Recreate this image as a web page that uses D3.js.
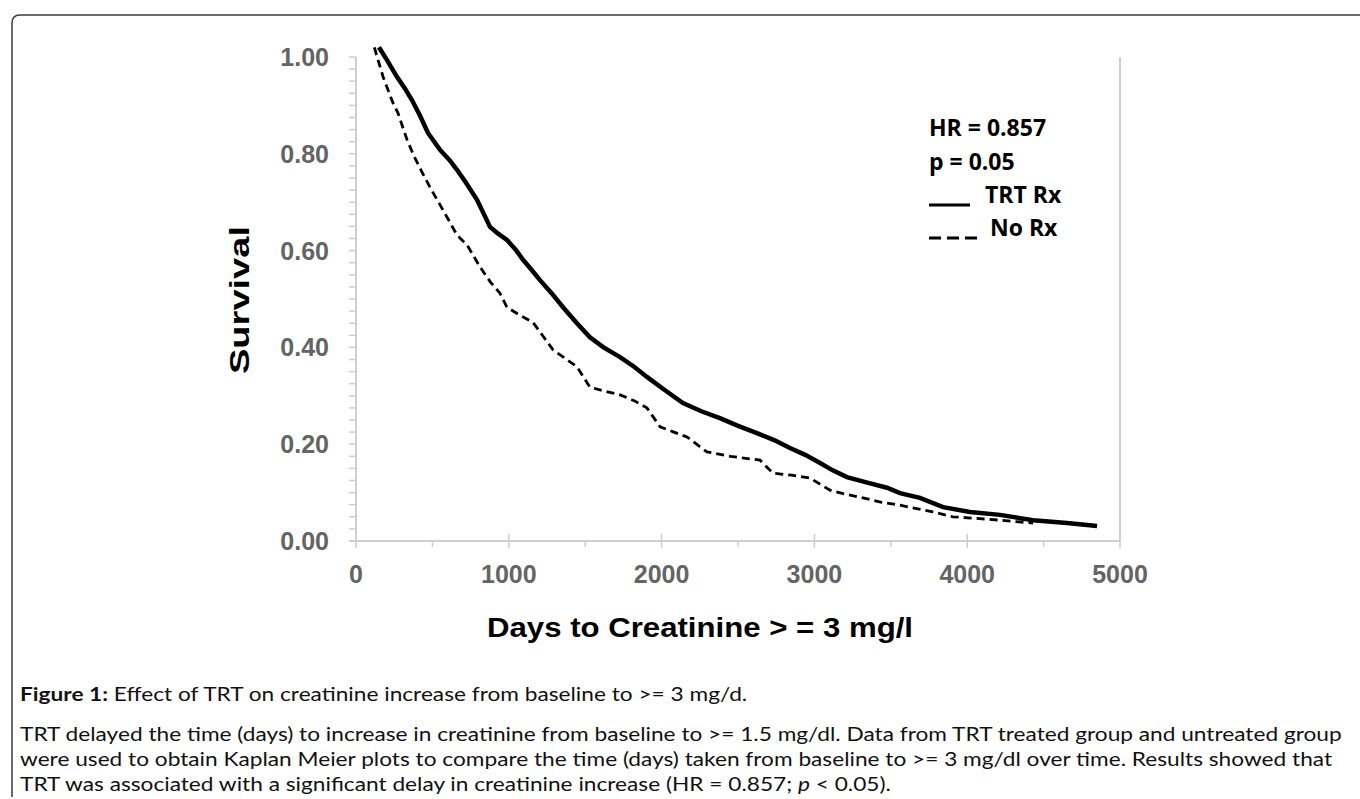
<!DOCTYPE html>
<html>
<head>
<meta charset="utf-8">
<script src="https://cdn.jsdelivr.net/npm/d3@7"></script>
<style>
  body { margin: 0; background: #fff; }
  svg { display: block; }
</style>
</head>
<body>
<div id="chart"></div>
<script>
// Kaplan Meier curves
var trtDays = [150, 200, 268, 320, 366, 420, 471, 550, 610, 661, 720, 792, 830, 877, 930, 988, 1050, 1093, 1150, 1204, 1280, 1355, 1440, 1531, 1620, 1728, 1820, 1904, 2020, 2140, 2260, 2382, 2500, 2624, 2740, 2840, 2940, 3037, 3120, 3213, 3340, 3475, 3560, 3691, 3842, 4018, 4215, 4431, 4653, 4850];
var trtSurv = [1.02, 0.995, 0.959, 0.935, 0.911, 0.878, 0.843, 0.808, 0.788, 0.767, 0.740, 0.705, 0.680, 0.649, 0.635, 0.622, 0.600, 0.581, 0.560, 0.539, 0.512, 0.483, 0.452, 0.421, 0.400, 0.380, 0.360, 0.339, 0.312, 0.285, 0.268, 0.254, 0.238, 0.223, 0.208, 0.192, 0.178, 0.161, 0.146, 0.132, 0.121, 0.110, 0.099, 0.089, 0.070, 0.060, 0.054, 0.043, 0.037, 0.031];

var noRxDays = [120, 177, 242, 275, 334, 380, 432, 484, 540, 596, 661, 726, 812, 880, 942, 988, 1080, 1158, 1220, 1289, 1446, 1531, 1620, 1728, 1820, 1904, 1990, 2080, 2166, 2297, 2450, 2644, 2729, 2850, 2971, 3102, 3200, 3318, 3440, 3560, 3776, 3907, 4050, 4215, 4431];
var noRxSurv = [1.02, 0.959, 0.905, 0.884, 0.829, 0.795, 0.762, 0.731, 0.700, 0.669, 0.632, 0.612, 0.566, 0.535, 0.512, 0.483, 0.465, 0.452, 0.425, 0.395, 0.360, 0.318, 0.310, 0.302, 0.290, 0.275, 0.236, 0.225, 0.215, 0.184, 0.175, 0.167, 0.140, 0.136, 0.130, 0.105, 0.097, 0.089, 0.080, 0.074, 0.060, 0.050, 0.047, 0.043, 0.037];

var xTicks = [0, 1000, 2000, 3000, 4000, 5000];
var yTicks = [0, 0.2, 0.4, 0.6, 0.8, 1.0];

var statLines = ["HR = 0.857", "p = 0.05"];
var seriesNames = ["TRT Rx", "No Rx"];

var W = 1360, H = 799;
var svg = d3.select('#chart').append('svg')
    .attr('width', W)
    .attr('height', H);

// outer frame (top and left only, rounded corner)
svg.append('path')
    .attr('d', 'M12,797 L12,23 Q12,15 20,15 L1360,15')
    .attr('fill', 'none')
    .attr('stroke', '#3a3a3a')
    .attr('stroke-width', 1.5);

var pLeft = 356, pRight = 1120, pTop = 57, pBottom = 541;

var x = d3.scaleLinear().domain([0, 5000]).range([pLeft, pRight]);
var y = d3.scaleLinear().domain([0, 1]).range([pBottom, pTop]);

var axisColor = '#cfcfcf';
var labelColor = '#646464';
var arial = '"Liberation Sans", Arial, sans-serif';
var calibri = '"Open Sans", Lato, sans-serif';

// right border of plot area
svg.append('line')
    .attr('x1', pRight).attr('x2', pRight)
    .attr('y1', pTop).attr('y2', pBottom)
    .attr('stroke', axisColor).attr('stroke-width', 2);

// y axis: minor ticks every 0.025
var yAxis = svg.append('g');
yAxis.append('line')
    .attr('x1', pLeft).attr('x2', pLeft)
    .attr('y1', pTop).attr('y2', pBottom)
    .attr('stroke', axisColor).attr('stroke-width', 2);
yAxis.selectAll('.minor')
    .data(d3.range(0, 41).map(function (i) { return i * 0.025; }))
    .enter().append('line')
    .attr('x1', pLeft - 7).attr('x2', pLeft)
    .attr('y1', function (d) { return y(d); })
    .attr('y2', function (d) { return y(d); })
    .attr('stroke', axisColor).attr('stroke-width', 1.5);
yAxis.selectAll('.lbl')
    .data(yTicks)
    .enter().append('text')
    .attr('x', 329)
    .attr('y', function (d) { return y(d) + 9; })
    .attr('text-anchor', 'end')
    .style('font-family', arial)
    .style('font-size', '25px')
    .style('font-weight', 'bold')
    .style('fill', labelColor)
    .text(function (d) { return d3.format('.2f')(d); });

// x axis
var xAxis = svg.append('g');
xAxis.append('line')
    .attr('x1', pLeft - 7).attr('x2', pRight)
    .attr('y1', pBottom).attr('y2', pBottom)
    .attr('stroke', axisColor).attr('stroke-width', 2);
xAxis.selectAll('.major')
    .data(xTicks)
    .enter().append('line')
    .attr('x1', function (d) { return x(d); })
    .attr('x2', function (d) { return x(d); })
    .attr('y1', pBottom - 7).attr('y2', pBottom + 7)
    .attr('stroke', axisColor).attr('stroke-width', 1.5);
xAxis.selectAll('.minor')
    .data([500, 1500, 2500, 3500, 4500])
    .enter().append('line')
    .attr('x1', function (d) { return x(d); })
    .attr('x2', function (d) { return x(d); })
    .attr('y1', pBottom).attr('y2', pBottom + 6)
    .attr('stroke', axisColor).attr('stroke-width', 1.5);
xAxis.selectAll('.lbl')
    .data(xTicks)
    .enter().append('text')
    .attr('x', function (d) { return x(d); })
    .attr('y', 583)
    .attr('text-anchor', 'middle')
    .style('font-family', arial)
    .style('font-size', '25px')
    .style('font-weight', 'bold')
    .style('fill', labelColor)
    .text(function (d) { return d; });

// axis titles
svg.append('text')
    .attr('x', 700).attr('y', 637)
    .attr('text-anchor', 'middle')
    .attr('textLength', 426)
    .attr('lengthAdjust', 'spacingAndGlyphs')
    .style('font-family', arial)
    .style('font-size', '28px')
    .style('font-weight', 'bold')
    .style('fill', '#000')
    .text('Days to Creatinine > = 3 mg/l');

svg.append('text')
    .attr('transform', 'translate(249, 300)rotate(-90)')
    .attr('text-anchor', 'middle')
    .attr('textLength', 148)
    .attr('lengthAdjust', 'spacingAndGlyphs')
    .style('font-family', arial)
    .style('font-size', '28px')
    .style('font-weight', 'bold')
    .style('fill', '#000')
    .text('Survival');

// curves
var line = d3.line()
    .x(function (d) { return x(d[0]); })
    .y(function (d) { return y(d[1]); });

svg.append('path')
    .datum(d3.zip(noRxDays, noRxSurv))
    .attr('d', line)
    .attr('fill', 'none')
    .attr('stroke', '#000')
    .attr('stroke-width', 2.8)
    .attr('stroke-dasharray', '8,5');

svg.append('path')
    .datum(d3.zip(trtDays, trtSurv))
    .attr('d', line)
    .attr('fill', 'none')
    .attr('stroke', '#000')
    .attr('stroke-width', 4.5);

// legend / statistics block
var legend = svg.append('g')
    .style('font-family', calibri)
    .style('font-size', '23px')
    .style('font-weight', 'bold')
    .style('fill', '#000');

legend.selectAll('.stat')
    .data(statLines)
    .enter().append('text')
    .attr('x', 929)
    .attr('y', function (d, i) { return 136 + i * 34; })
    .text(function (d) { return d; });

// line samples drawn like the underscores of the original
var markEnd = [970, 983];
var markDash = [null, '12,6'];
var textX = [985, 990];
legend.selectAll('.swatch')
    .data(seriesNames)
    .enter().append('line')
    .attr('x1', 929)
    .attr('x2', function (d, i) { return markEnd[i]; })
    .attr('y1', function (d, i) { return 205 + i * 33; })
    .attr('y2', function (d, i) { return 205 + i * 33; })
    .attr('stroke', '#000')
    .attr('stroke-width', 2.8)
    .attr('stroke-dasharray', function (d, i) { return markDash[i]; });

legend.selectAll('.series')
    .data(seriesNames)
    .enter().append('text')
    .attr('x', function (d, i) { return textX[i]; })
    .attr('y', function (d, i) { return 203 + i * 33; })
    .text(function (d) { return d; });

// caption, Lato stretched horizontally to match the narrow figure font width
var cap = svg.append('g')
    .attr('transform', 'translate(20,0)')
    .style('font-family', 'Lato, "Open Sans", sans-serif')
    .style('font-size', '19px')
    .style('fill', '#111');

var t1 = cap.append('text').attr('x', 0).attr('y', 701);
t1.append('tspan').style('font-weight', 'bold').text('Figure 1:');
t1.append('tspan').text(' Effect of TRT on creatinine increase from baseline to >= 3 mg/d.');

var t2 = cap.append('text').attr('x', 0).attr('y', 741)
    .text('TRT delayed the time (days) to increase in creatinine from baseline to >= 1.5 mg/dl. Data from TRT treated group and untreated group');
cap.append('text').attr('x', 0).attr('y', 766)
    .text('were used to obtain Kaplan Meier plots to compare the time (days) taken from baseline to >= 3 mg/dl over time. Results showed that');
var t4 = cap.append('text').attr('x', 0).attr('y', 791);
t4.append('tspan').text('TRT was associated with a significant delay in creatinine increase (HR = 0.857; ');
t4.append('tspan').style('font-style', 'italic').text('p');
t4.append('tspan').text(' < 0.05).');

var len = t2.node().getComputedTextLength();
cap.attr('transform', 'translate(20,0) scale(' + (1323 / len) + ',1)');
</script>
</body>
</html>
